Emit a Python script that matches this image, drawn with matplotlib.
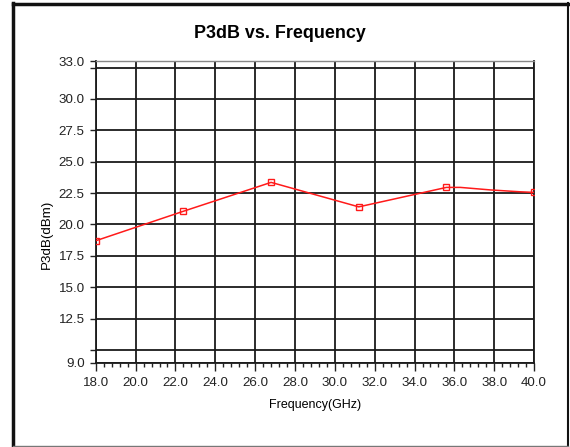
import numpy as np
import matplotlib.pyplot as plt
from matplotlib.lines import Line2D

plt.rcParams['font.family'] = ['Liberation Sans', 'DejaVu Sans']

# data
freq = [18.0, 22.4, 26.8, 31.2, 35.6, 36.3, 37.8, 39.3, 40.0]
p3db = [18.7, 21.05, 23.35, 21.4, 22.95, 22.95, 22.75, 22.6, 22.55]
marker_idx = [0, 1, 2, 3, 4, 8]

x_major = np.arange(18.0, 40.01, 2.0)
x_minor = np.arange(18.0, 40.01, 0.4)
y_ticks = [9.0, 10.0, 12.5, 15.0, 17.5, 20.0, 22.5, 25.0, 27.5, 30.0, 32.5, 33.0]
y_labels = ['9.0', '', '12.5', '15.0', '17.5', '20.0', '22.5', '25.0', '27.5', '30.0', '', '33.0']

fig = plt.figure(figsize=(5.7, 4.47), dpi=100)
ax = fig.add_axes([0.168, 0.189, 0.769, 0.674])

ax.plot(freq, p3db, color='#ff1a1a', linewidth=1.1, marker='s', markersize=5,
        markerfacecolor='none', markeredgecolor='#ff1a1a', markeredgewidth=1.0,
        markevery=marker_idx, zorder=3)

ax.set_xlim(18.0, 40.0)
ax.set_ylim(9.0, 33.0)
ax.set_xticks(x_major)
ax.set_xticks(x_minor, minor=True)
ax.set_xticklabels(['%.1f' % v for v in x_major])
ax.set_yticks(y_ticks)
ax.set_yticklabels(y_labels)
ax.grid(True, which='major', color='#1a1a1a', linewidth=1.3)
ax.tick_params(axis='x', which='major', direction='out', length=6, width=1.0,
               labelsize=9.6, colors='#222222', pad=4.5)
ax.tick_params(axis='y', which='major', direction='out', length=4.5, width=1.0,
               labelsize=9.6, colors='#222222', pad=3.5)
ax.tick_params(axis='x', which='minor', direction='out', length=3, width=1.0, color='#222222')
ax.tick_params(axis='y', which='minor', left=False)

for s in ['left', 'bottom', 'right']:
    ax.spines[s].set_color('#1a1a1a')
    ax.spines[s].set_linewidth(1.3)
ax.spines['top'].set_color('#888888')
ax.spines['top'].set_linewidth(1.0)

ax.set_xlabel('Frequency(GHz)', fontsize=9, labelpad=7)
fig.text(0.083, 0.475, 'P3dB(dBm)', rotation=90, fontsize=9.6, ha='center', va='center')
fig.text(0.491, 0.926, 'P3dB vs. Frequency', fontsize=12.9, fontweight='bold',
         ha='center', va='center')

# outer frame
W, H = 570.0, 447.0
fig.add_artist(Line2D([13 / W, 13 / W], [1 - 3 / H, 1 - 446 / H], color='#111111', lw=2.5,
                      transform=fig.transFigure))
fig.add_artist(Line2D([13 / W, 568 / W], [1 - 3.5 / H, 1 - 3.5 / H], color='#111111', lw=2.5,
                      transform=fig.transFigure))
fig.add_artist(Line2D([568 / W, 568 / W], [1 - 3 / H, 1 - 446 / H], color='#111111', lw=1.5,
                      transform=fig.transFigure))
fig.add_artist(Line2D([13 / W, 568 / W], [1 - 445.5 / H, 1 - 445.5 / H], color='#777777', lw=1.0,
                      transform=fig.transFigure))

fig.savefig('out.png', dpi=100)
